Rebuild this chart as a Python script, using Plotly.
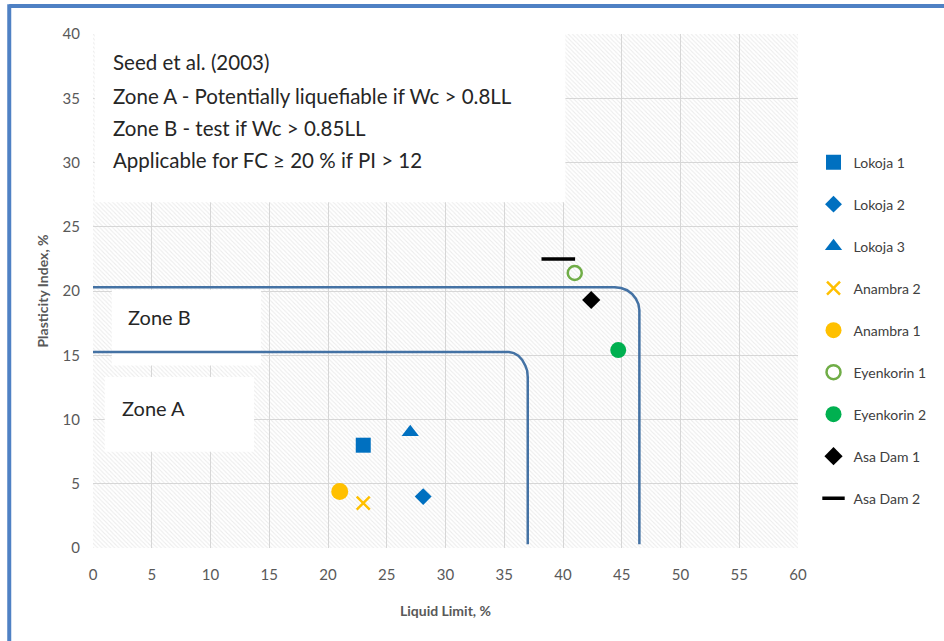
import plotly.graph_objects as go

# Soil samples: liquid limit (LL, %) and plasticity index (PI, %)
sample_names = ["Lokoja 1", "Lokoja 2", "Lokoja 3", "Anambra 2", "Anambra 1",
                "Eyenkorin 1", "Eyenkorin 2", "Asa Dam 1", "Asa Dam 2"]
liquid_limit = [23.0, 28.1, 27.0, 23.0, 21.0, 41.0, 44.7, 42.4, 39.6]
plasticity_index = [8.0, 4.0, 9.0, 3.5, 4.4, 21.4, 15.4, 19.3, 22.5]

# Seed et al. (2003) zone boundaries (rounded corners)
zone_b_ll = [0, 44.4, 44.95, 45.45, 45.88, 46.2, 46.42, 46.5, 46.5]
zone_b_pi = [20.3, 20.3, 20.23, 20.06, 19.77, 19.4, 18.97, 18.5, 0.3]
zone_a_ll = [0, 35.4, 35.82, 36.2, 36.53, 36.79, 36.95, 37.0, 37.0]
zone_a_pi = [15.25, 15.25, 15.17, 14.96, 14.63, 14.2, 13.8, 13.3, 0.3]

x_ticks = list(range(0, 61, 5))
y_ticks = list(range(0, 41, 5))

note_lines = ["Seed et al. (2003)",
              "Zone A - Potentially liquefiable if Wc > 0.8LL",
              "Zone B - test if Wc > 0.85LL",
              "Applicable for FC \u2265 20 % if PI > 12"]

# marker styles per sample
styles = [
    dict(symbol="square", size=15, color="#0070c0"),
    dict(symbol="diamond", size=13, color="#0070c0"),
    dict(symbol="triangle-up", size=15, color="#0070c0"),
    dict(symbol="x-thin-open", size=13, color="#ffc000", line=dict(width=2.5, color="#ffc000")),
    dict(symbol="circle", size=17, color="#ffc000"),
    dict(symbol="circle-open", size=14, color="#70ad47", line=dict(width=2.5, color="#70ad47")),
    dict(symbol="circle", size=16, color="#00b050"),
    dict(symbol="diamond", size=14, color="#000000"),
    dict(symbol="line-ew-open", size=24, color="#000000", line=dict(width=3.5, color="#000000")),
]

FONT = "Lato, Open Sans, sans-serif"
GREY = "#595959"
TEXT = "#262626"

fig = go.Figure()

# hatched plot background
fig.add_trace(go.Scatter(
    x=[0, 60, 60, 0, 0], y=[0, 0, 40, 40, 0], mode="lines", fill="toself",
    line=dict(width=0), fillcolor="rgba(0,0,0,0)",
    fillpattern=dict(shape="\\", fgcolor="#d9d9d9", bgcolor="rgba(0,0,0,0)",
                     size=3, solidity=0.35),
    showlegend=False, hoverinfo="skip"))

# white label boxes
def white_box(x0, x1, y0, y1):
    fig.add_trace(go.Scatter(
        x=[x0, x1, x1, x0, x0], y=[y0, y0, y1, y1, y0], mode="lines",
        fill="toself", fillcolor="white", line=dict(width=0),
        showlegend=False, hoverinfo="skip"))

white_box(0.15, 40.2, 26.9, 40)
white_box(1.6, 14.3, 14.2, 20.1)
white_box(1.0, 13.7, 7.5, 13.3)

# zone boundaries
for zx, zy in [(zone_b_ll, zone_b_pi), (zone_a_ll, zone_a_pi)]:
    fig.add_trace(go.Scatter(
        x=zx, y=zy, mode="lines", line=dict(color="#4472a4", width=2.5),
        showlegend=False, hoverinfo="skip"))

# samples
for i, name in enumerate(sample_names):
    fig.add_trace(go.Scatter(
        x=[liquid_limit[i]], y=[plasticity_index[i]], mode="markers", name=name,
        legendgroup=name, marker=styles[i]))

annotations = []
for k, line in enumerate(note_lines):
    annotations.append(dict(x=1.5, y=[37.8, 35.2, 32.7, 30.2][k], text=line,
                            xref="x", yref="y", xanchor="left", yanchor="middle",
                            showarrow=False, font=dict(family=FONT, size=20.5, color=TEXT)))
annotations.append(dict(x=2.8, y=18.0, text="Zone B", xref="x", yref="y", xanchor="left",
                        showarrow=False, font=dict(family=FONT, size=20, color=TEXT)))
annotations.append(dict(x=2.3, y=10.9, text="Zone A", xref="x", yref="y", xanchor="left",
                        showarrow=False, font=dict(family=FONT, size=20, color=TEXT)))

# blue frame (top and left edges)
shapes = [
    dict(type="line", xref="paper", yref="paper", x0=-0.1188, x1=1.3, y0=1.0545, y1=1.0545,
         line=dict(color="#4f81c4", width=4)),
    dict(type="line", xref="paper", yref="paper", x0=-0.1188, x1=-0.1188, y0=1.058, y1=-0.2,
         line=dict(color="#4f81c4", width=4)),
]

fig.update_layout(
    width=944, height=641,
    margin=dict(l=93, r=144, t=34, b=93),
    paper_bgcolor="white", plot_bgcolor="white",
    font=dict(family=FONT, color=GREY, size=14),
    xaxis=dict(range=[0, 60], tickvals=x_ticks, showgrid=True, gridcolor="#d6d6d6",
               gridwidth=1, zeroline=False, showline=False, ticks="",
               ticklabelstandoff=16, tickfont=dict(size=15, color=GREY),
               title=dict(text="<b>Liquid Limit, %</b>", standoff=24,
                          font=dict(size=14, color=GREY))),
    yaxis=dict(range=[0, 40], tickvals=y_ticks, showgrid=True, gridcolor="#d6d6d6",
               gridwidth=1, zeroline=False, showline=False, ticks="",
               ticklabelstandoff=12, tickfont=dict(size=15, color=GREY),
               title=dict(text="<b>Plasticity Index, %</b>", standoff=10,
                          font=dict(size=14, color=GREY))),
    legend=dict(x=1.022, y=0.781, xanchor="left", yanchor="top",
                traceorder="grouped", tracegroupgap=20.8,
                font=dict(size=14, color="#404040"), bgcolor="rgba(0,0,0,0)"),
    annotations=annotations,
    shapes=shapes,
)

fig.write_html("out.html")
